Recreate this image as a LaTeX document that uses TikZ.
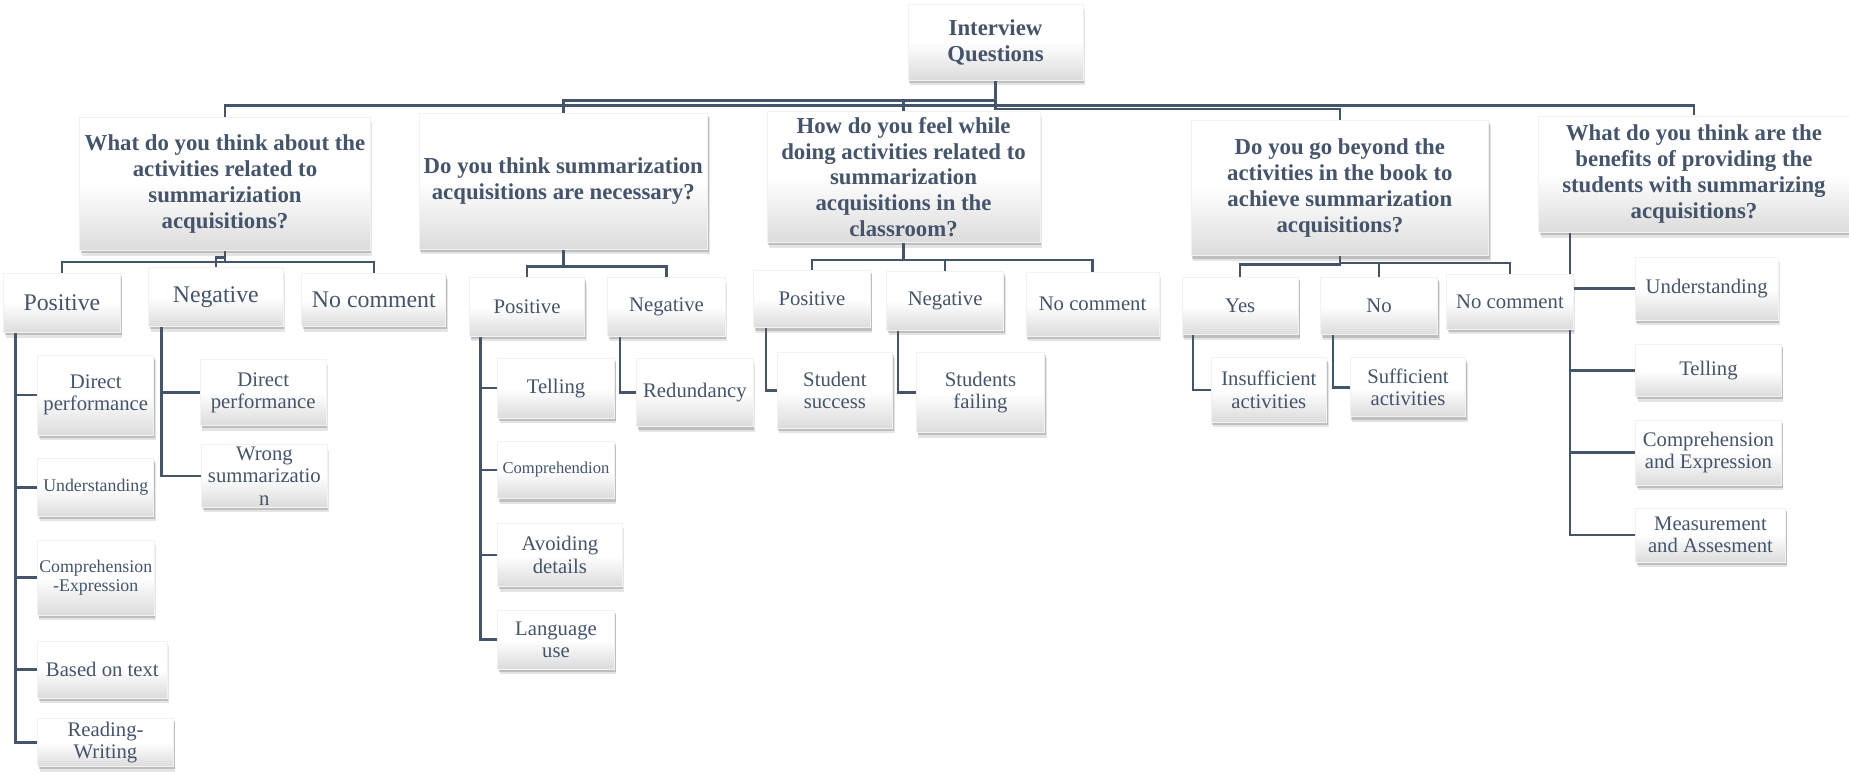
\documentclass[tikz,border=0pt]{standalone}
\usepackage{fontspec}
\setmainfont{Liberation Serif}
\usepackage{tikz}
\usetikzlibrary{shadows, calc}
\usepackage{xcolor}
\definecolor{slate}{HTML}{44546A}
\pgfdeclarelayer{background}
\pgfsetlayers{background,main}
\tikzset{wh/.style 2 args={minimum width=#1*0.02cm, minimum height=#2*0.02cm}}

\begin{document}
\begin{tikzpicture}[
        x=0.02cm, y=-0.02cm,
        box/.style={rectangle, draw=black!5, thin, top color=white, bottom color=black!14, middle color=white, drop shadow={shadow xshift=1pt, shadow yshift=-2.4pt, opacity=0.15, fill=black!70}, drop shadow={shadow xshift=0.6pt, shadow yshift=-1.3pt, opacity=0.3, fill=black!60}, align=center, text=slate, inner sep=1pt},
        qbox/.style={box, font=\fontsize{11}{12.5}\selectfont\bfseries},
        abox/.style={box, font=\fontsize{10}{11}\selectfont},
        bigabox/.style={box, font=\fontsize{11.5}{12.5}\selectfont},
        leaf/.style={box, font=\fontsize{10}{10.8}\selectfont},
        smallleaf/.style={box, font=\fontsize{8.6}{9.3}\selectfont},
        link/.style={draw=slate, line width=1.2pt}
      ]
\useasboundingbox (0,0) rectangle (1568,656);

\node[qbox, wh={148.5}{64.6}] (root) at (844.2,35.7) {Interview\\Questions};

\node[qbox, wh={246.2}{113.1}] (q1) at (190.8,156) {What do you think about the\\activities related to\\summariziation\\acquisitions?};
      \node[qbox, wh={244.5}{115.5}] (q2) at (477.7,153.7) {Do you think summarization\\acquisitions are necessary?};
      \node[qbox, wh={231.5}{111.1}] (q3) at (766.2,150.2) {How do you feel while\\doing activities related to\\summarization\\acquisitions in the\\classroom?};
      \node[qbox, wh={252.5}{115.2}] (q4) at (1136.2,159.4) {Do you go beyond the\\activities in the book to\\achieve summarization\\acquisitions?};
      \node[qbox, wh={263}{98.9}] (q5) at (1436.5,147.8) {What do you think are the\\benefits of providing the\\students with summarizing\\acquisitions?};

\node[bigabox, wh={99}{50}] (pos1) at (52.5,257) {Positive};
      \node[bigabox, wh={114}{50}] (neg1) at (183,252) {Negative};
      \node[bigabox, wh={122}{45}] (noc1) at (317,254.5) {No comment};
      \node[abox, wh={98}{49.5}] (pos2) at (447,260.2) {Positive};
      \node[abox, wh={99.5}{49.5}] (neg2) at (565.2,260.2) {Negative};
      \node[abox, wh={99}{49}] (pos3) at (688.5,253.5) {Positive};
      \node[abox, wh={99}{49.5}] (neg3) at (801.5,255.2) {Negative};
      \node[abox, wh={113}{54}] (noc3) at (926.5,258) {No comment};
      \node[abox, wh={98.5}{49}] (yes4) at (1051.7,259.5) {Yes};
      \node[abox, wh={99}{49}] (no4) at (1169.5,259.5) {No};
      \node[abox, wh={107}{46.5}] (noc4) at (1280.5,255.7) {No comment};

\node[leaf, wh={98.5}{68}] (dp1) at (81.2,335) {Direct\\performance};
      \node[smallleaf, wh={98.5}{49.2}] (und1) at (81.2,413.2) {Understanding};
      \node[smallleaf, wh={98.5}{63.6}] (ce1) at (81.2,489.8) {Comprehension\\-Expression};
      \node[leaf, wh={109.5}{48.3}] (bot1) at (86.8,567.8) {Based on text};
      \node[leaf, wh={115}{41.3}] (rw1) at (89.5,629.6) {Reading-\\Writing};
      \node[leaf, wh={106.5}{56}] (dp1n) at (223.2,333) {Direct\\performance};
      \node[leaf, wh={106.5}{52.6}] (ws1) at (224.2,403.7) {Wrong\\summarizatio\\n};

\node[leaf, wh={99}{50.8}] (tel2) at (471.5,329.1) {Telling};
      \node[box, font=\fontsize{8}{9}\selectfont, wh={99}{49}] (com2) at (471.5,398.5) {Comprehendion};
      \node[leaf, wh={105.6}{53.8}] (avd2) at (474.8,470.7) {Avoiding\\details};
      \node[leaf, wh={99}{50}] (lan2) at (471.5,542.5) {Language\\use};
      \node[leaf, wh={98.6}{58}] (red2) at (589.3,333) {Redundancy};

\node[leaf, wh={98}{64}] (ss3) at (708,331) {Student\\success};
      \node[leaf, wh={109}{68}] (sf3) at (831.5,333) {Students\\failing};

\node[leaf, wh={98}{54.5}] (ins4) at (1076,330.7) {Insufficient\\activities};
      \node[leaf, wh={98}{50}] (suf4) at (1194,328.5) {Sufficient\\activities};

\node[leaf, wh={121.3}{53.4}] (und5) at (1447.3,244.7) {Understanding};
      \node[leaf, wh={123.6}{44.5}] (tel5) at (1448.8,314.2) {Telling};
      \node[leaf, wh={123.6}{55.2}] (ce5) at (1448.8,383.8) {Comprehension\\and Expression};
      \node[leaf, wh={127}{45.8}] (ms5) at (1450.5,453.7) {Measurement\\and Assesment};

\begin{pgfonlayer}{background}
      \draw[link] (root.south) -- ++(0,21.3) -| (q1.north);
      \draw[link] (root.south) -- ++(0,16.8) -| (q2.north);
      \draw[link] (root.south) -- ++(0,16.8) -| (q3.north);
      \draw[link] (root.south) -- ++(0,24) -| (q4.north);
      \draw[link] (root.south) -- ++(0,21.3) -| (q5.north);

\draw[link] (q1.south) -- ++(0,9.4) -| (pos1.north);
      \draw[link] (q1.south) -- ++(0,5.5) -| (neg1.north);
      \draw[link] (q1.south) -- ++(0,9.4) -| (noc1.north);
      \draw[link] (q2.south) -- ++(0,14) -| (pos2.north);
      \draw[link] (q2.south) -- ++(0,14) -| (neg2.north);
      \draw[link] (q3.south) -- ++(0,14.5) -| (pos3.north);
      \draw[link] (q3.south) -- ++(0,14.5) -| (neg3.north);
      \draw[link] (q3.south) -- ++(0,14.5) -| (noc3.north);
      \draw[link] (q4.south) -- ++(0,7) -| (yes4.north);
      \draw[link] (q4.south) -- ++(0,5.5) -| (no4.north);
      \draw[link] (q4.south) -- ++(0,5.5) -| (noc4.north);

\draw[link] (pos1.south west) ++(10.5,0) |- (dp1.west);
      \draw[link] (pos1.south west) ++(10.5,0) |- (und1.west);
      \draw[link] (pos1.south west) ++(10.5,0) |- (ce1.west);
      \draw[link] (pos1.south west) ++(10.5,0) |- (bot1.west);
      \draw[link] (pos1.south west) ++(10.5,0) |- (rw1.west);
      \draw[link] (neg1.south west) ++(11.5,0) |- (dp1n.west);
      \draw[link] (neg1.south west) ++(11.5,0) |- (ws1.west);

\draw[link] (pos2.south west) ++(10,0) |- (tel2.west);
      \draw[link] (pos2.south west) ++(10,0) |- (com2.west);
      \draw[link] (pos2.south west) ++(10,0) |- (avd2.west);
      \draw[link] (pos2.south west) ++(10,0) |- (lan2.west);
      \draw[link] (neg2.south west) ++(10.5,0) |- (red2.west);

\draw[link] (pos3.south west) ++(11,0) |- (ss3.west);
      \draw[link] (neg3.south west) ++(10,0) |- (sf3.west);
      \draw[link] (yes4.south west) ++(9.5,0) |- (ins4.west);
      \draw[link] (no4.south west) ++(10.6,0) |- (suf4.west);

\draw[link] (q5.south west) ++(26.6,0) |- (und5.west);
      \draw[link] (q5.south west) ++(26.6,0) |- (tel5.west);
      \draw[link] (q5.south west) ++(26.6,0) |- (ce5.west);
      \draw[link] (q5.south west) ++(26.6,0) |- (ms5.west);
      \end{pgfonlayer}

      \end{tikzpicture}
\end{document}
